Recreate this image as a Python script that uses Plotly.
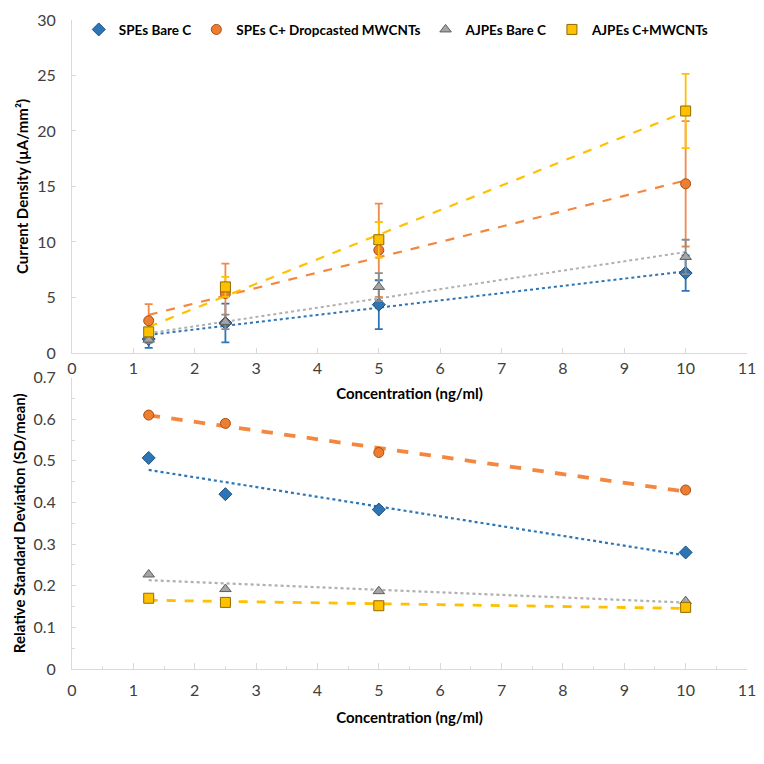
import numpy as np
import plotly.graph_objects as go

# ---- data ----
conc = [1.25, 2.5, 5, 10]
series_names = ["SPEs Bare C", "SPEs C+ Dropcasted MWCNTs", "AJPEs Bare C", "AJPEs C+MWCNTs"]

cd_spe_bare = [1.25, 2.7, 4.35, 7.2]
cd_spe_bare_sd = [0.8, 1.75, 2.2, 1.6]
cd_spe_mw = [2.9, 5.35, 9.26, 15.24]
cd_spe_mw_sd = [1.5, 2.7, 4.2, 5.65]
cd_aj_bare = [1.2, 2.8, 5.95, 8.65]
cd_aj_bare_sd = [0.3, 0.65, 1.25, 1.55]
cd_aj_mw = [1.9, 5.95, 10.2, 21.8]
cd_aj_mw_sd = [0.35, 0.9, 1.6, 3.35]

rsd_spe_bare = [0.507, 0.42, 0.383, 0.28]
rsd_spe_mw = [0.61, 0.59, 0.52, 0.43]
rsd_aj_bare = [0.227, 0.192, 0.187, 0.163]
rsd_aj_mw = [0.17, 0.16, 0.152, 0.148]

# ---- styles ----
styles = [
    dict(color="#2E75B6", line="#1F4E79", err="#2E75B6", symbol="diamond", dash="dot", size=10),
    dict(color="#ED7D31", line="#A94F14", err="#F08A4B", symbol="circle", dash="dash", size=10),
    dict(color="#A5A5A5", line="#5E5E5E", err="#8C8C8C", symbol="triangle-up", dash="dot", size=10),
    dict(color="#FFC000", line="#8F6B00", err="#FFC000", symbol="square", dash="dash", size=10),
]
trend_colors = ["#2E75B6", "#F4873F", "#B0B0B0", "#FFC000"]

FONT = "Lato, 'Open Sans', sans-serif"
fig = go.Figure()

cd_vals = [cd_spe_bare, cd_spe_mw, cd_aj_bare, cd_aj_mw]
cd_sds = [cd_spe_bare_sd, cd_spe_mw_sd, cd_aj_bare_sd, cd_aj_mw_sd]
rsd_vals = [rsd_spe_bare, rsd_spe_mw, rsd_aj_bare, rsd_aj_mw]
top_widths = [2, 2.2, 2, 2.2]
bot_widths = [2.2, 3.8, 2.2, 2.8]

x_arr = np.array(conc, dtype=float)
x_line = np.array([conc[0], conc[-1]])

# trendlines (top)
for i in range(4):
    m, b = np.polyfit(x_arr, np.array(cd_vals[i]), 1)
    fig.add_trace(go.Scatter(x=x_line, y=m * x_line + b, mode="lines",
                             line=dict(color=trend_colors[i], dash=styles[i]["dash"], width=top_widths[i]),
                             showlegend=False, hoverinfo="skip", xaxis="x", yaxis="y"))
# points (top)
for i in range(4):
    s = styles[i]
    fig.add_trace(go.Scatter(x=conc, y=cd_vals[i], mode="markers", name=series_names[i],
                             marker=dict(symbol=s["symbol"], size=s["size"], color=s["color"],
                                         line=dict(color=s["line"], width=1)),
                             error_y=dict(type="data", array=cd_sds[i], color=s["err"],
                                          thickness=1.8, width=4),
                             xaxis="x", yaxis="y"))

# trendlines (bottom)
for i in range(4):
    m, b = np.polyfit(x_arr, np.array(rsd_vals[i]), 1)
    fig.add_trace(go.Scatter(x=x_line, y=m * x_line + b, mode="lines",
                             line=dict(color=trend_colors[i], dash=styles[i]["dash"], width=bot_widths[i]),
                             showlegend=False, hoverinfo="skip", xaxis="x2", yaxis="y2"))
for i in range(4):
    s = styles[i]
    fig.add_trace(go.Scatter(x=conc, y=rsd_vals[i], mode="markers", name=series_names[i],
                             showlegend=False,
                             marker=dict(symbol=s["symbol"], size=s["size"], color=s["color"],
                                         line=dict(color=s["line"], width=1)),
                             xaxis="x2", yaxis="y2"))

axis_common = dict(showgrid=False, zeroline=False, showline=True, linecolor="#D9D9D9", linewidth=1,
                   automargin=False, ticklabeloverflow="allow",
                   tickfont=dict(family=FONT, size=16, color="#404040"), tickcolor="#D9D9D9")
title_font = dict(family=FONT, size=15, color="#000000", weight="bold")

# page body has an 8px default margin, so the figure is sized to fit the 764px window
fig.update_layout(
    width=748, height=748,
    margin=dict(l=64, r=9, t=6, b=87),
    paper_bgcolor="white", plot_bgcolor="white",
    font=dict(family=FONT),
    showlegend=True,
    legend=dict(orientation="h", x=0.01, y=1.009, xanchor="left", yanchor="top",
                font=dict(family=FONT, size=13.5, color="#000000", weight="bold"),
                bgcolor="rgba(255,255,255,0)", itemwidth=30, tracegroupgap=0),
    xaxis=dict(domain=[0, 1], anchor="y", range=[0, 11], dtick=1, ticks="inside", ticklen=5,
               ticklabelstandoff=1,
               title=dict(text="Concentration (ng/ml)", font=title_font, standoff=12), **axis_common),
    yaxis=dict(domain=[0.487, 1], anchor="x", range=[0, 30], dtick=5, ticks="inside", ticklen=4,
               ticklabelstandoff=12,
               title=dict(text="Current Density (µA/mm²)", font=title_font, standoff=4), **axis_common),
    xaxis2=dict(domain=[0, 1], anchor="y2", range=[0, 11], dtick=1, ticks="inside", ticklen=6,
                ticklabelstandoff=7,
                minor=dict(dtick=0.5, ticks="inside", ticklen=3, tickcolor="#D9D9D9"),
                title=dict(text="Concentration (ng/ml)", font=title_font, standoff=14), **axis_common),
    yaxis2=dict(domain=[0, 0.449], anchor="x2", range=[0, 0.7], dtick=0.1, ticks="inside", ticklen=4,
                ticklabelstandoff=12, tickformat=".1~f",
                minor=dict(dtick=0.05, ticks="inside", ticklen=3, tickcolor="#D9D9D9"),
                title=dict(text="Relative Standard Deviation (SD/mean)", font=title_font, standoff=4),
                **axis_common),
)

fig.write_html("out.html")
